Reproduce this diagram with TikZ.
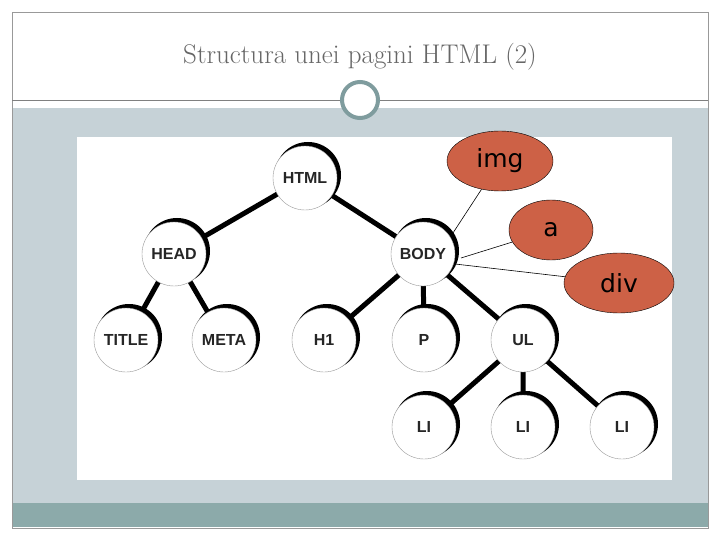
\documentclass[tikz,border=0pt]{standalone}
\usepackage{fontspec}
\setsansfont{Liberation Sans}
\newfontfamily\comic{DejaVu Sans}
\usetikzlibrary{shapes.geometric}
\begin{document}
\begin{tikzpicture}[x=1pt,y=-1pt,
  tn/.style={circle,draw=black!40,fill=white,minimum size=64pt,inner sep=0pt,font=\sffamily\bfseries\fontsize{16}{16}\selectfont,text=black!85},
  el/.style={ellipse,draw=black,fill=ered,inner sep=0pt,font=\comic\fontsize{25}{25}\selectfont},
  edge/.style={line width=5pt,black},
  thin/.style={line width=0.6pt,black}]
\definecolor{ered}{HTML}{CD6146}
\definecolor{panel}{HTML}{C6D2D7}
\definecolor{bar}{HTML}{8CAAAA}
\definecolor{ring}{HTML}{7F9C9E}
\useasboundingbox (0,0) rectangle (720,540);
\fill[white] (0,0) rectangle (720,540);
\fill[panel] (12,108) rectangle (708,503);
\fill[bar] (12,503) rectangle (708,527);
\draw[black!40,line width=0.6pt] (12,12) rectangle (708,528);
\draw[black!50,line width=0.6pt] (12,100) -- (708,100);
\node[circle,draw=ring,line width=4pt,fill=white,minimum size=36pt,inner sep=0pt] (ring) at (360,100) {};
\node[text=black!60,font=\rmfamily\fontsize{27}{27}\selectfont] (title) at (360,57) {Structura unei pagini HTML (2)};
\fill[white] (77,137) rectangle (672,480);
\foreach \n/\x/\y in {html/305/178,head/174/254,body/423/254,title/126/340,meta/224/340,h1/324/340,p/424/340,ul/523/340,la/424/427,lb/523/427,lc/622/427}
  \coordinate (c\n) at (\x,\y);
\draw[edge] (chtml)--(chead) (chtml)--(cbody) (chead)--(ctitle) (chead)--(cmeta)
  (cbody)--(ch1) (cbody)--(cp) (cbody)--(cul) (cul)--(cla) (cul)--(clb) (cul)--(clc);
\foreach \n in {html,head,body,title,meta,h1,p,ul,la,lb,lc}
  \fill[black] ([shift={(3,-3)}]c\n) circle (33);
\node[tn] (html) at (chtml) {HTML};
\node[tn] (head) at (chead) {HEAD};
\node[tn] (body) at (cbody) {BODY};
\node[tn] (title) at (ctitle) {TITLE};
\node[tn] (meta) at (cmeta) {META};
\node[tn] (h1) at (ch1) {H1};
\node[tn] (p) at (cp) {P};
\node[tn] (ul) at (cul) {UL};
\node[tn] (la) at (cla) {LI};
\node[tn] (lb) at (clb) {LI};
\node[tn] (lc) at (clc) {LI};
\node[el,minimum width=106pt,minimum height=60pt] (img) at (500,161) {img};
\node[el,minimum width=84pt,minimum height=60pt] (a) at (551,230) {a};
\node[el,minimum width=110pt,minimum height=60pt] (div) at (619,283) {div};
\coordinate (b1) at (451,236);
\coordinate (b2) at (461,258);
\coordinate (b3) at (455,264);
\draw[thin] (img) -- (b1);
\draw[thin] (a) -- (b2);
\draw[thin] (div) -- (b3);
\end{tikzpicture}
\end{document}
